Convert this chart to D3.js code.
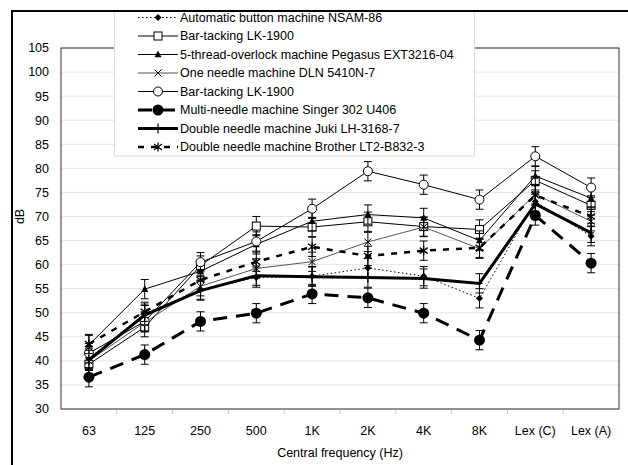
<!DOCTYPE html>
<html>
<head>
<meta charset="utf-8">
<script src="https://cdn.jsdelivr.net/npm/d3@7"></script>
<style>
    body { margin: 0; background: #fff; }
    text { font-family: "Liberation Sans", Arial, sans-serif; }
</style>
</head>
<body>
<svg id="chart"></svg>
<script>
let categories = ["63", "125", "250", "500", "1K", "2K", "4K", "8K", "Lex (C)", "Lex (A)"];
let yTicks = [30, 35, 40, 45, 50, 55, 60, 65, 70, 75, 80, 85, 90, 95, 100, 105];

let seriesNames = [
    "Automatic button machine NSAM-86",
    "Bar-tacking LK-1900",
    "5-thread-overlock machine Pegasus EXT3216-04",
    "One needle machine DLN 5410N-7",
    "Bar-tacking LK-1900",
    "Multi-needle machine Singer 302 U406",
    "Double needle machine Juki LH-3168-7",
    "Double needle machine Brother LT2-B832-3"
];

let nsam86 = [40.5, 49.8, 54.8, 57.3, 57.6, 59.3, 57.6, 53.0, 73.1, 65.9];
let lk1900Square = [39.3, 47.0, 59.8, 68.0, 67.8, 68.9, 67.9, 67.3, 77.5, 72.3];
let pegasus = [43.3, 54.9, 58.6, 64.2, 69.0, 70.4, 69.7, 65.0, 78.4, 73.8];
let dln5410 = [40.0, 48.0, 55.5, 59.2, 60.6, 64.7, 67.8, 63.3, 74.6, 69.0];
let lk1900Circle = [41.6, 48.2, 60.5, 64.8, 71.6, 79.4, 76.6, 73.5, 82.5, 76.0];
let singer = [36.6, 41.3, 48.2, 49.9, 53.9, 53.1, 49.9, 44.3, 70.2, 60.3];
let juki = [40.2, 49.5, 54.6, 57.7, 57.5, 57.3, 57.1, 56.1, 72.6, 66.6];
let brother = [43.5, 50.2, 56.8, 60.6, 63.7, 61.8, 62.9, 63.5, 74.4, 70.0];

let errorBar = 2;

let margin = {top: 48, right: 9, bottom: 56, left: 61},
    width = 628 - margin.left - margin.right,
    height = 465 - margin.top - margin.bottom;

// line + marker look for each series, same order as seriesNames
let styles = [
    {stroke: "#000", sw: 1, dash: "1.5,2.5", marker: "diamond"},
    {stroke: "#000", sw: 1, dash: null, marker: "square"},
    {stroke: "#000", sw: 1, dash: null, marker: "triangle"},
    {stroke: "#555", sw: 1, dash: null, marker: "cross"},
    {stroke: "#000", sw: 1, dash: null, marker: "circle"},
    {stroke: "#000", sw: 3, dash: "14,9", marker: "dot"},
    {stroke: "#000", sw: 3, dash: null, marker: "plus"},
    {stroke: "#000", sw: 2.5, dash: "6,7", marker: "star"}
];

let svg = d3.select("#chart")
    .attr("width", 628)
    .attr("height", 465);

let g = svg.append("g")
    .attr("transform", "translate(" + margin.left + "," + margin.top + ")");

let x = d3.scaleBand()
    .domain(categories)
    .range([0, width]);

let y = d3.scaleLinear()
    .domain([30, 105])
    .range([height, 0]);

// gridlines
g.selectAll(".grid")
    .data(yTicks)
    .enter()
    .append("line")
    .attr("x1", 0)
    .attr("x2", width)
    .attr("y1", d => y(d))
    .attr("y2", d => y(d))
    .attr("stroke", "#e4e4e4");

// y axis labels
g.selectAll(".ylab")
    .data(yTicks)
    .enter()
    .append("text")
    .attr("x", -12)
    .attr("y", d => y(d))
    .attr("dy", "0.35em")
    .attr("text-anchor", "end")
    .style("font-size", "12.5px")
    .text(d => d);

// x axis ticks at band edges
let edges = categories.map(c => x(c)).concat([width]);
g.selectAll(".xtick")
    .data(edges.slice(1, -1))
    .enter()
    .append("line")
    .attr("x1", d => d)
    .attr("x2", d => d)
    .attr("y1", height)
    .attr("y2", height + 5)
    .attr("stroke", "#ccc");

g.selectAll(".xlab")
    .data(categories)
    .enter()
    .append("text")
    .attr("x", d => x(d) + x.bandwidth() / 2)
    .attr("y", height + 26)
    .attr("text-anchor", "middle")
    .style("font-size", "12.5px")
    .text(d => d);

g.append("text")
    .attr("x", width / 2)
    .attr("y", height + 48)
    .attr("text-anchor", "middle")
    .style("font-size", "12.5px")
    .text("Central frequency (Hz)");

g.append("text")
    .attr("transform", "rotate(-90)")
    .attr("x", -(y(70)))
    .attr("y", -37)
    .attr("text-anchor", "middle")
    .style("font-size", "12.5px")
    .text("dB");

// plot frame
g.append("rect")
    .attr("width", width)
    .attr("height", height)
    .attr("fill", "none")
    .attr("stroke", "#333")
    .attr("stroke-width", 1);

let allSeries = [nsam86, lk1900Square, pegasus, dln5410, lk1900Circle, singer, juki, brother];

let line = d3.line()
    .x((d, i) => x(categories[i]) + x.bandwidth() / 2)
    .y(d => y(d));

function drawMarker(sel, type, cx, cy) {
    let m = sel.append("g").attr("transform", "translate(" + cx + "," + cy + ")");
    if (type === "diamond") {
        m.append("path").attr("d", "M0,-3.5L3.5,0L0,3.5L-3.5,0Z").attr("fill", "#000");
    } else if (type === "square") {
        m.append("rect").attr("x", -4).attr("y", -4).attr("width", 8).attr("height", 8)
            .attr("fill", "#fff").attr("stroke", "#000");
    } else if (type === "triangle") {
        m.append("path").attr("d", "M0,-4L3.5,2.8L-3.5,2.8Z").attr("fill", "#000");
    } else if (type === "cross") {
        m.append("path").attr("d", "M-3.5,-3.5L3.5,3.5M-3.5,3.5L3.5,-3.5").attr("stroke", "#000");
    } else if (type === "circle") {
        m.append("circle").attr("r", 4.5).attr("fill", "#fff").attr("stroke", "#000");
    } else if (type === "dot") {
        m.append("circle").attr("r", 5.5).attr("fill", "#000");
    } else if (type === "plus") {
        m.append("path").attr("d", "M0,-5V5M-3,0H3").attr("stroke", "#000").attr("stroke-width", 1.2);
    } else if (type === "star") {
        m.append("path").attr("d", "M0,-4.5V4.5M-4,-3L4,3M-4,3L4,-3").attr("stroke", "#000").attr("stroke-width", 1.3);
    }
}

// series lines, error bars, markers
allSeries.forEach(function (vals, s) {
    let st = styles[s];
    let sg = g.append("g");
    sg.append("path")
        .datum(vals)
        .attr("d", line)
        .attr("fill", "none")
        .attr("stroke", st.stroke)
        .attr("stroke-width", st.sw)
        .attr("stroke-dasharray", st.dash);
    vals.forEach(function (v, i) {
        let cx = x(categories[i]) + x.bandwidth() / 2;
        let y1 = y(v - errorBar), y2 = y(v + errorBar);
        sg.append("path")
            .attr("d", "M" + cx + "," + y1 + "V" + y2 +
                "M" + (cx - 4) + "," + y1 + "H" + (cx + 4) +
                "M" + (cx - 4) + "," + y2 + "H" + (cx + 4))
            .attr("stroke", "#000")
            .attr("fill", "none");
    });
    vals.forEach(function (v, i) {
        drawMarker(sg, st.marker, x(categories[i]) + x.bandwidth() / 2, y(v));
    });
});

// legend box over the plot
let lg = svg.append("g");
lg.append("rect")
    .attr("x", 114.5)
    .attr("y", 11)
    .attr("width", 360)
    .attr("height", 145)
    .attr("fill", "#fff")
    .attr("stroke", "#ddd");

seriesNames.forEach(function (name, s) {
    let st = styles[s];
    let ly = 17.5 + s * 18.5;
    lg.append("line")
        .attr("x1", 138)
        .attr("x2", 178)
        .attr("y1", ly)
        .attr("y2", ly)
        .attr("stroke", st.stroke)
        .attr("stroke-width", st.sw)
        .attr("stroke-dasharray", st.dash);
    drawMarker(lg, st.marker, 158, ly);
    lg.append("text")
        .attr("x", 180)
        .attr("y", ly)
        .attr("dy", "0.35em")
        .style("font-size", "12.5px")
        .text(name);
});

// outer chart frame (left and top edges show)
svg.append("path")
    .attr("d", "M12,465V11H628")
    .attr("fill", "none")
    .attr("stroke", "#000")
    .attr("stroke-width", 2);
</script>
</body>
</html>
